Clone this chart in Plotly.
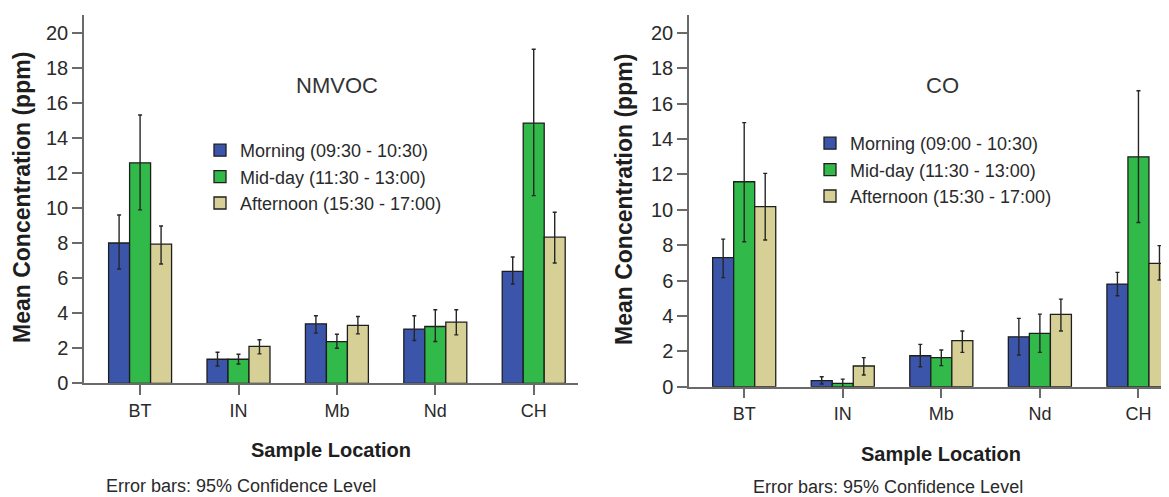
import plotly.graph_objects as go

# The page body adds an 8px offset; the figure is sized to the visible area.
OFF = 8
W, H = 1169 - OFF, 497 - OFF

locations = ["BT", "IN", "Mb", "Nd", "CH"]

# NMVOC (ppm): means and 95% CI bounds
nmvoc_morning = [8.0, 1.37, 3.39, 3.09, 6.38]
nmvoc_morning_hi = [9.6, 1.77, 3.85, 3.85, 7.2]
nmvoc_morning_lo = [6.52, 0.99, 2.86, 2.44, 5.66]
nmvoc_midday = [12.57, 1.37, 2.38, 3.24, 14.84]
nmvoc_midday_hi = [15.3, 1.66, 2.8, 4.19, 19.05]
nmvoc_midday_lo = [9.89, 1.1, 2.0, 2.38, 10.7]
nmvoc_afternoon = [7.93, 2.1, 3.3, 3.49, 8.33]
nmvoc_afternoon_hi = [8.97, 2.48, 3.81, 4.19, 9.75]
nmvoc_afternoon_lo = [6.8, 1.68, 2.82, 2.76, 6.86]

# CO (ppm): means and 95% CI bounds
co_morning = [7.29, 0.34, 1.75, 2.82, 5.8]
co_morning_hi = [8.34, 0.56, 2.39, 3.86, 6.46]
co_morning_lo = [6.16, 0.15, 1.13, 1.79, 5.14]
co_midday = [11.58, 0.19, 1.64, 3.01, 12.99]
co_midday_hi = [14.92, 0.43, 2.07, 4.1, 16.72]
co_midday_lo = [8.19, -0.05, 1.19, 1.94, 9.28]
co_afternoon = [10.17, 1.17, 2.6, 4.09, 6.97]
co_afternoon_hi = [12.05, 1.64, 3.15, 4.95, 7.97]
co_afternoon_lo = [8.29, 0.66, 1.94, 3.15, 6.03]

nmvoc_names = ["Morning (09:30 - 10:30)", "Mid-day (11:30 - 13:00)", "Afternoon (15:30 - 17:00)"]
co_names = ["Morning (09:00 - 10:30)", "Mid-day (11:30 - 13:00)", "Afternoon (15:30 - 17:00)"]

colors = ["#3b55aa", "#31b94a", "#d6d096"]

FONT = "Liberation Sans, Arial, sans-serif"


def px_x(p):
    return (p - OFF) / W


def px_y(p):
    return 1 - (p - OFF) / H


fig = go.Figure()

nm_sets = [
    (nmvoc_morning, nmvoc_morning_hi, nmvoc_morning_lo),
    (nmvoc_midday, nmvoc_midday_hi, nmvoc_midday_lo),
    (nmvoc_afternoon, nmvoc_afternoon_hi, nmvoc_afternoon_lo),
]
co_sets = [
    (co_morning, co_morning_hi, co_morning_lo),
    (co_midday, co_midday_hi, co_midday_lo),
    (co_afternoon, co_afternoon_hi, co_afternoon_lo),
]


def add_group(sets, names, xa, ya, legend):
    for (vals, hi, lo), name, col in zip(sets, names, colors):
        fig.add_trace(go.Bar(
            x=locations, y=vals, name=name,
            xaxis=xa, yaxis=ya, legend=legend,
            marker=dict(color=col, line=dict(color="#1e1e1e", width=1.3)),
            error_y=dict(
                type="data", symmetric=False,
                array=[h - v for h, v in zip(hi, vals)],
                arrayminus=[v - l for v, l in zip(vals, lo)],
                color="#262626", thickness=1.4, width=2,
            ),
        ))


add_group(nm_sets, nmvoc_names, "x", "y", "legend")
add_group(co_sets, co_names, "x2", "y2", "legend2")

axis_common = dict(
    showline=True, linecolor="#6a6a6a", linewidth=1.5,
    ticks="outside", tickcolor="#6a6a6a", tickwidth=1.5,
    showgrid=False, zeroline=False, automargin=False,
)

yaxis_common = dict(
    axis_common, range=[0, 21], tickmode="array",
    tickvals=[0, 2, 4, 6, 8, 10, 12, 14, 16, 18, 20],
    ticklen=10, tickfont=dict(family=FONT, size=20, color="#2a2a2a"),
)
xaxis_common = dict(
    axis_common, type="category", ticklen=10,
    tickfont=dict(family=FONT, size=18, color="#2a2a2a"),
)

fig.update_layout(
    width=W, height=H,
    margin=dict(l=0, r=0, t=0, b=0, pad=0, autoexpand=False),
    paper_bgcolor="white", plot_bgcolor="white",
    barmode="group", bargap=0.36, bargroupgap=0,
    xaxis=dict(xaxis_common, domain=[px_x(84), px_x(578)], range=[-0.57, 4.45], anchor="y"),
    yaxis=dict(yaxis_common, domain=[px_y(383.3), px_y(15)], anchor="x"),
    xaxis2=dict(xaxis_common, domain=[px_x(689), 1.0], range=[-0.56, 4.31], anchor="y2"),
    yaxis2=dict(yaxis_common, domain=[px_y(386.7), px_y(15)], anchor="x2"),
    legend=dict(
        x=px_x(200), y=px_y(132), xanchor="left", yanchor="top",
        font=dict(family=FONT, size=18, color="#2a2a2a"),
        bgcolor="rgba(0,0,0,0)", tracegroupgap=0,
    ),
    legend2=dict(
        x=px_x(810), y=px_y(125), xanchor="left", yanchor="top",
        font=dict(family=FONT, size=18, color="#2a2a2a"),
        bgcolor="rgba(0,0,0,0)", tracegroupgap=0,
    ),
    showlegend=True,
)

annotations = [
    dict(text="NMVOC", x=px_x(337), y=px_y(85), font=dict(family=FONT, size=22, color="#333333")),
    dict(text="CO", x=px_x(942), y=px_y(85), font=dict(family=FONT, size=22, color="#333333")),
    dict(text="<b>Mean Concentration (ppm)</b>", x=px_x(22), y=px_y(198), textangle=-90,
         font=dict(family=FONT, size=23, color="#1e1e1e")),
    dict(text="<b>Mean Concentration (ppm)</b>", x=px_x(624), y=px_y(200), textangle=-90,
         font=dict(family=FONT, size=23, color="#1e1e1e")),
    dict(text="<b>Sample Location</b>", x=px_x(331), y=px_y(450),
         font=dict(family=FONT, size=20, color="#1e1e1e")),
    dict(text="<b>Sample Location</b>", x=px_x(941), y=px_y(454),
         font=dict(family=FONT, size=20, color="#1e1e1e")),
    dict(text="Error bars: 95% Confidence Level", x=px_x(241), y=px_y(486),
         font=dict(family=FONT, size=18, color="#2a2a2a")),
    dict(text="Error bars: 95% Confidence Level", x=px_x(888), y=px_y(487),
         font=dict(family=FONT, size=18, color="#2a2a2a")),
]
for a in annotations:
    a.update(xref="paper", yref="paper", showarrow=False, xanchor="center", yanchor="middle")
fig.update_layout(annotations=annotations)

fig.write_html("out.html")
